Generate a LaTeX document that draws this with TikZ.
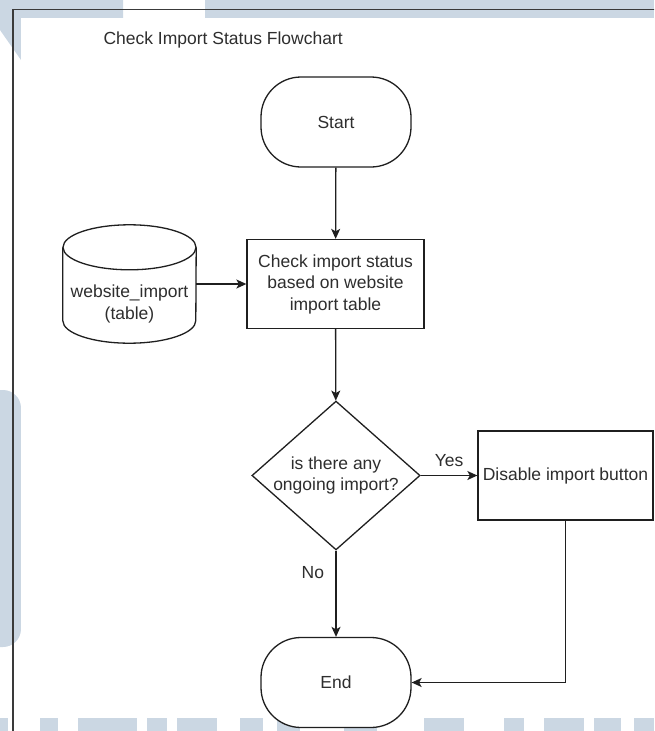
\documentclass[tikz,border=0pt]{standalone}
\usepackage{fontspec}
\setmainfont{Liberation Sans}
\usetikzlibrary{shapes.geometric,arrows.meta}
\definecolor{FlowLine}{HTML}{1F1F1F}
\definecolor{FlowText}{HTML}{2E2E2E}
\definecolor{FrameLine}{HTML}{3A3A3A}
\definecolor{WatermarkBlue}{HTML}{CBD7E3}
\tikzset{
  terminal/.style={draw=FlowLine, line width=1.3pt, fill=white, rectangle, rounded corners=40pt,
    minimum width=150pt, minimum height=90pt, inner sep=0pt},
  process/.style={draw=FlowLine, line width=1.3pt, fill=white, rectangle, minimum height=89pt,
    inner sep=0pt, align=center},
  decision/.style={draw=FlowLine, line width=1.3pt, fill=white, diamond, aspect=1.13,
    minimum width=166pt, minimum height=147pt, inner sep=0pt, align=center},
  dbbox/.style={rectangle, minimum width=133pt, minimum height=118pt, inner sep=0pt},
  dbline/.style={draw=FlowLine, line width=1.3pt, fill=white},
  flow/.style={draw=FlowLine, line width=1.3pt, -{Stealth[length=10pt,width=9pt,inset=2.5pt]}},
}

\begin{document}
\begin{tikzpicture}[x=1pt, y=-1pt,
    every node/.style={font=\fontsize{17.5}{21.5}\selectfont, text=FlowText}]
                \useasboundingbox (0,0) rectangle (654,731);
                \clip (0,0) rectangle (654,731);

                % watermark behind the page
                \fill[WatermarkBlue] (0,0) -- (123,0) -- (123,18) -- (21,18) -- (21,60) -- (0,30) -- cycle;
                \fill[WatermarkBlue] (205,0) rectangle (654,18);
                \fill[WatermarkBlue, rounded corners=18pt] (-30,390) rectangle (21,647);
                \foreach \a/\b in {0/8, 40/58, 78/137, 147/167, 177/217, 240/263, 277/300,
                                   344/377, 424/464, 504/524, 544/584, 594/621, 634/654}
                  \fill[WatermarkBlue] (\a,718) rectangle (\b,740);
                \fill[white] (21,18) rectangle (654,718);
                \draw[FrameLine, line width=1.2pt] (13,740) -- (13,9.5) -- (660,9.5);

                \node[anchor=west] (title) at (100,40) {Check Import Status Flowchart};

                \node[terminal] (start) at (336,122) {Start};
                \node[process, minimum width=177pt] (check) at (335.5,284)
                  {Check import status\\based on website\\import table};
                \node[decision] (dec) at (336,475.5) {is there any\\ongoing import?};
                \node[process, minimum width=175pt] (dis) at (565.5,475.5) {Disable import button};
                \node[terminal] (end) at (336,682.5) {End};

                % table as a cylinder
                \node[dbbox] (db) at (129.5,284) {};
                \draw[dbline] ([yshift=-22.5pt]db.north west) -- ([yshift=22.5pt]db.south west)
                  arc[start angle=180, end angle=360, x radius=66.5pt, y radius=22.5pt]
                  -- ([yshift=-22.5pt]db.north east);
                \draw[dbline] ([yshift=-22.5pt]db.north) ellipse [x radius=66.5pt, y radius=22.5pt];
                \node[align=center] (dbtext) at (129.5,304) {website\_import\\(table)};

                \draw[flow] (start) -- (check);
                \draw[flow] (db.east) -- (check.west);
                \draw[flow] (check) -- (dec);
                \draw[flow] (dec.east) -- node[above=5pt] {Yes} (dis.west);
                \draw[flow] (dec.south) -- node[pos=0.26, left=8pt] {No} (end.north);
                \draw[flow] (dis.south) |- (end.east);
            \end{tikzpicture}
\end{document}
